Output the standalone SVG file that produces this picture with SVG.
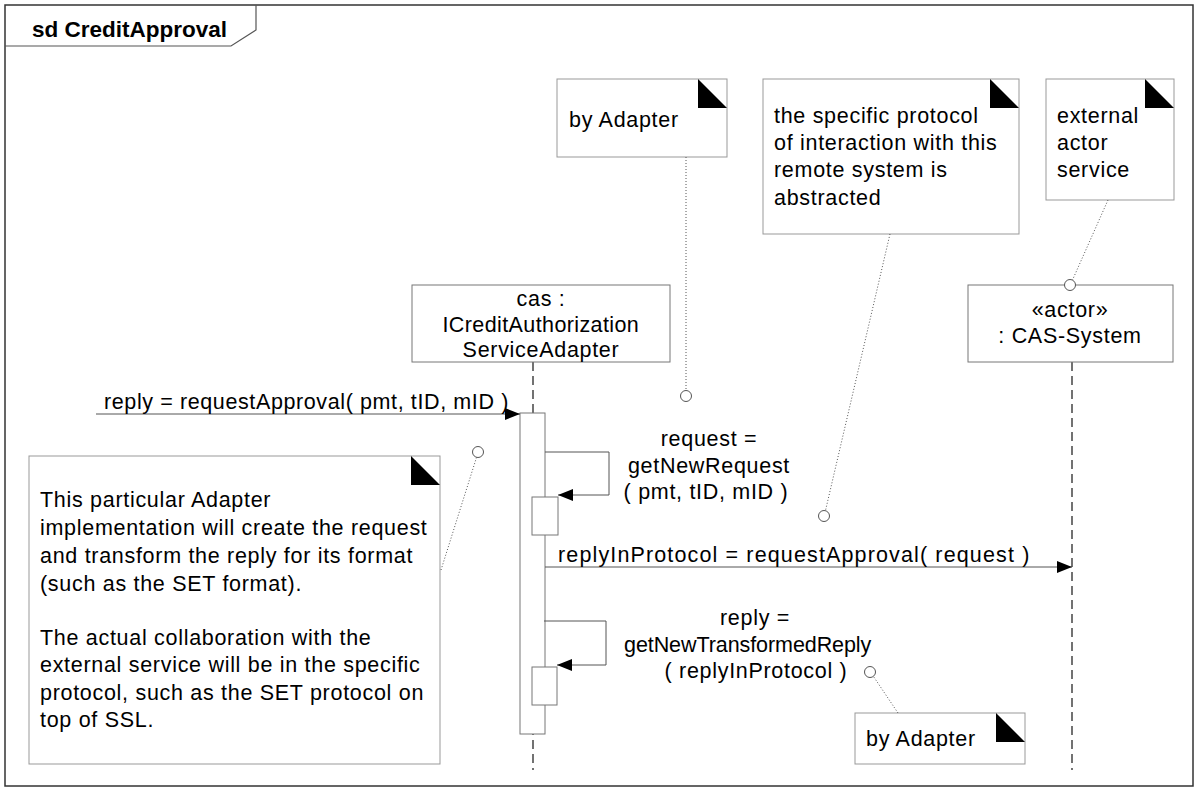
<svg xmlns="http://www.w3.org/2000/svg" width="1200" height="790" viewBox="0 0 1200 790">
<defs>
<style>
text{font-family:"Liberation Sans",Arial,sans-serif;font-size:21.5px;fill:#000;letter-spacing:0.7px}
.title{font-weight:bold;font-size:22.5px;letter-spacing:0}
.mid{text-anchor:middle}
.frame{fill:none;stroke:#333;stroke-width:1.5}
.box{fill:#fff;stroke:#777;stroke-width:1}
.note{fill:#fff;stroke:#999;stroke-width:1}
.fold{fill:#000}
.life{stroke:#444;stroke-width:1.5;stroke-dasharray:9 5;fill:none}
.msg{stroke:#555;stroke-width:1;fill:none}
.dot{stroke:#555;stroke-width:1;stroke-dasharray:1 2;fill:none}
.anchor{fill:#fff;stroke:#555;stroke-width:1}
</style>
<marker id="arr" viewBox="0 0 15 12" refX="15" refY="6" markerWidth="15" markerHeight="12" markerUnits="userSpaceOnUse" orient="auto">
<path d="M0,0 L15,6 L0,12 z" fill="#000"/>
</marker>
</defs>
<rect width="1200" height="790" fill="#fff"/>

<g id="frame">
<rect class="frame" x="5" y="5" width="1188" height="781"/>
<path d="M5,46 H231 L256,30 V5" fill="none" stroke="#555" stroke-width="1.2"/>
<text class="title" x="32" y="37">sd CreditApproval</text>
</g>

<g id="lifeline-cas">
<line class="life" x1="533" y1="362" x2="533" y2="770"/>
<rect class="box" x="412" y="285" width="258" height="77"/>
<text class="mid" x="541" y="306">cas :</text>
<text class="mid" x="541" y="332" textLength="197" lengthAdjust="spacing">ICreditAuthorization</text>
<text class="mid" x="541" y="357">ServiceAdapter</text>
</g>

<g id="lifeline-cas-system">
<line class="life" x1="1072" y1="362" x2="1072" y2="770"/>
<rect class="box" x="968" y="285" width="205" height="77"/>
<text class="mid" x="1070" y="317">«actor»</text>
<text class="mid" x="1070" y="343">: CAS-System</text>
</g>

<g id="activation-main">
<rect class="box" x="520" y="413" width="25" height="321"/>
</g>
<g id="activation-getNewRequest">
<rect class="box" x="532" y="497" width="26" height="38"/>
</g>
<g id="activation-getNewTransformedReply">
<rect class="box" x="532" y="667" width="25" height="38"/>
</g>

<g id="note-by-adapter-top">
<rect class="note" x="557" y="79" width="170" height="78"/>
<path class="fold" d="M698,79 L727,108 H698 z"/>
<text x="569" y="127">by Adapter</text>
</g>

<g id="note-protocol">
<rect class="note" x="763" y="79" width="256" height="155"/>
<path class="fold" d="M990,79 L1019,108 H990 z"/>
<text x="774" y="123">the specific protocol</text>
<text x="774" y="150">of interaction with this</text>
<text x="774" y="177">remote system is</text>
<text x="774" y="205">abstracted</text>
</g>

<g id="note-external">
<rect class="note" x="1046" y="79" width="128" height="121"/>
<path class="fold" d="M1145,79 L1174,108 H1145 z"/>
<text x="1057" y="123">external</text>
<text x="1057" y="150">actor</text>
<text x="1057" y="177">service</text>
</g>

<g id="note-adapter-impl">
<rect class="note" x="29" y="456" width="411" height="308"/>
<path class="fold" d="M411,456 L440,485 H411 z"/>
<text x="40" y="507">This particular Adapter</text>
<text x="40" y="535">implementation will create the request</text>
<text x="40" y="563">and transform the reply for its format</text>
<text x="40" y="591">(such as the SET format).</text>
<text x="40" y="645">The actual collaboration with the</text>
<text x="40" y="672">external service will be in the specific</text>
<text x="40" y="700">protocol, such as the SET protocol on</text>
<text x="40" y="727">top of SSL.</text>
</g>

<g id="note-by-adapter-bottom">
<rect class="note" x="855" y="713" width="170" height="51"/>
<path class="fold" d="M996,713 L1025,742 H996 z"/>
<text x="866" y="746">by Adapter</text>
</g>

<g id="connectors">
<line class="msg" x1="96" y1="414" x2="520" y2="414" marker-end="url(#arr)"/>
<text x="104" y="409" textLength="405" lengthAdjust="spacing">reply = requestApproval( pmt, tID, mID )</text>

<path class="msg" d="M545,452 H609 V495 H558" marker-end="url(#arr)"/>
<text class="mid" x="709" y="446">request =</text>
<text class="mid" x="709" y="473">getNewRequest</text>
<text class="mid" x="706" y="499">( pmt, tID, mID )</text>

<line class="msg" x1="545" y1="567" x2="1072" y2="567" marker-end="url(#arr)"/>
<text x="558" y="562" textLength="472" lengthAdjust="spacing">replyInProtocol = requestApproval( request )</text>

<path class="msg" d="M544,621 H606 V665 H557" marker-end="url(#arr)"/>
<text class="mid" x="755" y="625">reply =</text>
<text class="mid" x="748" y="652" textLength="248" lengthAdjust="spacing">getNewTransformedReply</text>
<text class="mid" x="756" y="678">( replyInProtocol )</text>

<line class="dot" x1="686" y1="157" x2="686" y2="390.5"/>
<circle class="anchor" cx="686" cy="396" r="5.5"/>
<line class="dot" x1="890" y1="234" x2="825.5" y2="510.5"/>
<circle class="anchor" cx="824" cy="516" r="5.5"/>
<line class="dot" x1="1108" y1="200" x2="1072.5" y2="280"/>
<circle class="anchor" cx="1070" cy="285" r="5.5"/>
<line class="dot" x1="441" y1="570" x2="476.5" y2="457.5"/>
<circle class="anchor" cx="478" cy="452" r="5.5"/>
<line class="dot" x1="898" y1="713" x2="873.5" y2="676.5"/>
<circle class="anchor" cx="870" cy="672" r="5.5"/>
</g>
</svg>
